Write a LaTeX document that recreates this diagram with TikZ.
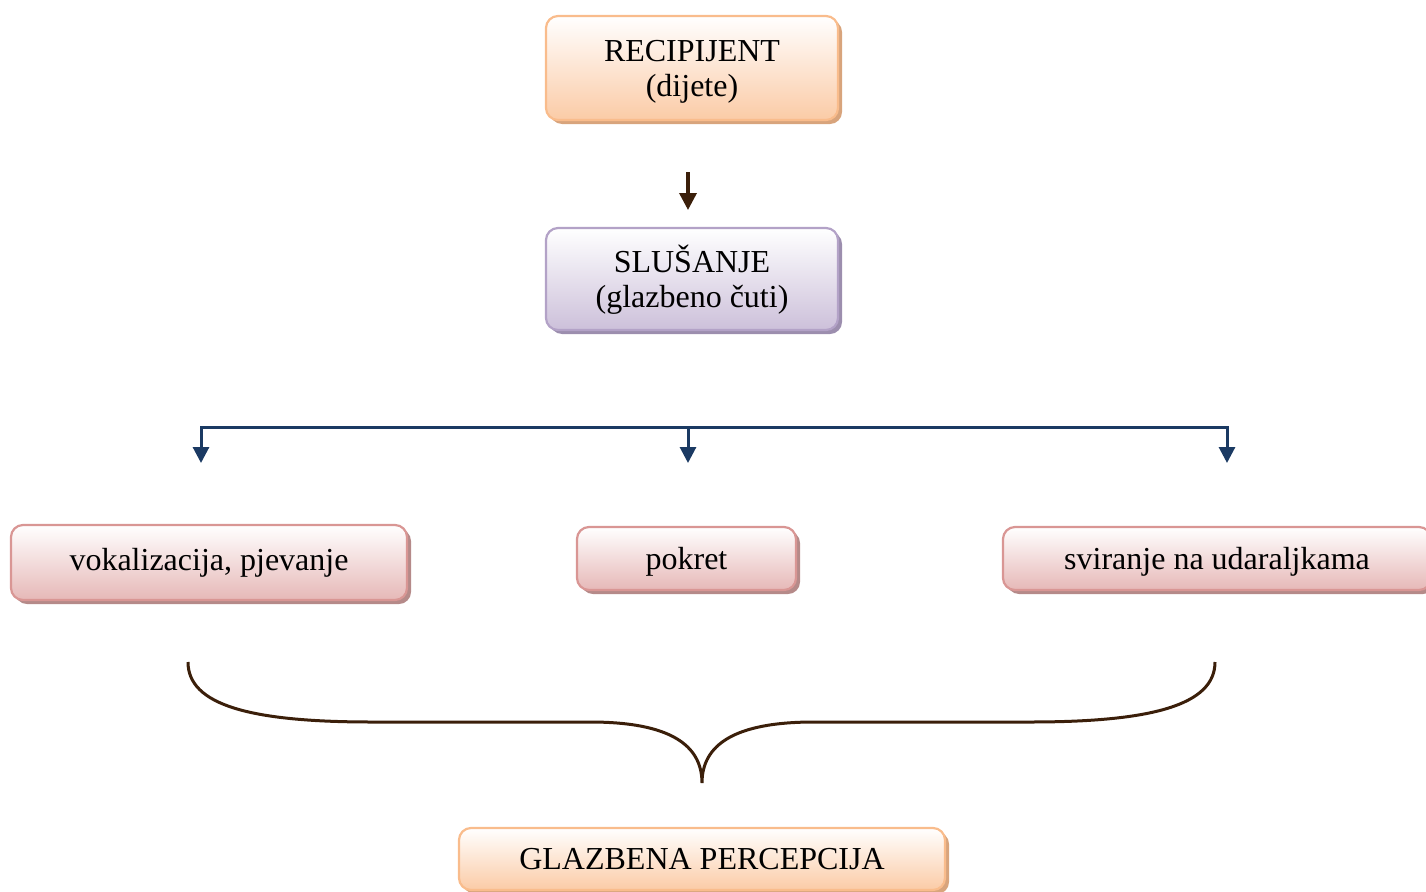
\documentclass[tikz,border=0pt]{standalone}
\usepackage{fontspec}
\setmainfont{Liberation Serif}
\usetikzlibrary{arrows.meta,shadows}
\definecolor{oBord}{HTML}{F9BC8C}
\definecolor{oFill}{HTML}{FBCBA6}
\definecolor{oShad}{HTML}{D8A47C}
\definecolor{pBord}{HTML}{B3A2C7}
\definecolor{pFill}{HTML}{CCC0DA}
\definecolor{pShad}{HTML}{9C8EAE}
\definecolor{rBord}{HTML}{D99694}
\definecolor{rFill}{HTML}{E6B8B7}
\definecolor{rShad}{HTML}{B58A89}
\definecolor{navy}{HTML}{1B3A63}
\definecolor{brown}{HTML}{3B1F0A}
\tikzset{
  box/.style={draw=#1Bord, line width=2.2pt, rounded corners=12pt, top color=white, bottom color=#1Fill,
    drop shadow={shadow xshift=4pt, shadow yshift=-4pt, fill=#1Shad, opacity=1},
    align=center, inner sep=0pt, font=\fontsize{32}{35}\selectfont},
  navyline/.style={draw=navy, line width=3pt},
  navyarrow/.style={navyline, -{Triangle[width=16pt,length=16pt]}},
  brownarrow/.style={draw=brown, line width=3.5pt, -{Triangle[width=17pt,length=17pt]}},
  bracestyle/.style={draw=brown, line width=3pt}
}
\begin{document}
\begin{tikzpicture}[x=1pt,y=-1pt]
\clip (0,0) rectangle (1426,891);
\useasboundingbox (0,0) rectangle (1426,891);
\node[box=o, minimum width=292pt, minimum height=104pt, text height=60pt, text depth=4pt] (rec) at (692,68) {RECIPIJENT\\(dijete)};
\node[box=p, minimum width=292pt, minimum height=102pt, text height=65pt, text depth=8pt] (slu) at (692,279) {SLUŠANJE\\(glazbeno čuti)};
\node[box=r, minimum width=396pt, minimum height=75pt, text height=19pt, text depth=4pt] (vok) at (209,562.5) {vokalizacija, pjevanje};
\node[box=r, minimum width=219pt, minimum height=63pt, text height=29pt, text depth=8pt] (pok) at (686.5,558.5) {pokret};
\node[box=r, minimum width=428pt, minimum height=63pt, text height=29pt, text depth=8pt] (svi) at (1217,558.5) {sviranje na udaraljkama};
\node[box=o, minimum width=486pt, minimum height=62pt, text height=24pt, text depth=4pt] (gla) at (702,859) {GLAZBENA PERCEPCIJA};
% arrow between top boxes
\coordinate (a1) at (688,172);
\coordinate (a2) at (688,210);
\draw[brownarrow] (a1) -- (a2);
% branching connector
\coordinate (bl) at (201,463);
\coordinate (blt) at (201,427);
\coordinate (brt) at (1227,427);
\coordinate (br) at (1227,463);
\coordinate (bmt) at (688,427);
\coordinate (bm) at (688,463);
\draw[navyline, {Triangle[width=16pt,length=16pt]}-{Triangle[width=16pt,length=16pt]}, line join=miter] (bl) -- (blt) -- (brt) -- (br);
\draw[navyarrow] (bmt) -- (bm);
% brace
\coordinate (c1) at (188,662);
\coordinate (tip) at (702,783);
\coordinate (c2) at (1215,662);
\draw[bracestyle] (c1) .. controls (188,705) and (250,722) .. (372,722)
  -- (590,722) .. controls (670,722) and (702,745) .. (tip)
  .. controls (702,745) and (734,722) .. (814,722)
  -- (1030,722) .. controls (1152,722) and (1215,705) .. (c2);
\end{tikzpicture}
\end{document}
